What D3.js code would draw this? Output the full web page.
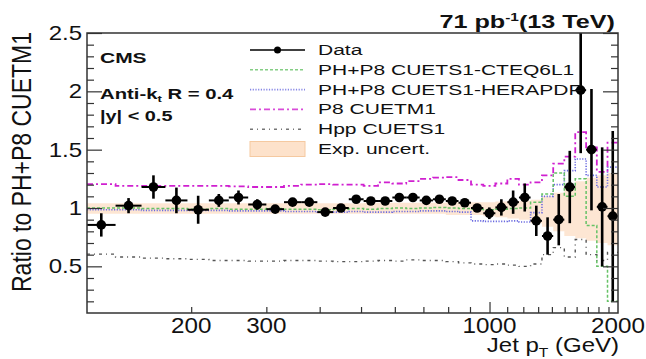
<!DOCTYPE html>
<html lang="en">
<head>
    <meta charset="UTF-8">
    <title>Ratio to PH+P8 CUETM1</title>
    <script src="https://d3js.org/d3.v7.min.js" charset="utf-8"></script>
    <style>
        body { margin: 0; background: #fff; }
        text { font-family: "Liberation Sans", Arial, Helvetica, sans-serif; fill: #111; }
        .axis path { display: none; }
        .axis line { stroke: #333; stroke-width: 1.2; }
    </style>
</head>
<body>
<script>
    // bin edges in jet pT (GeV)
    const ptEdges = [114, 133, 153, 174, 196, 220, 245, 272, 300, 330, 362, 395, 430, 468, 507, 548, 592, 638,
        686, 737, 790, 846, 905, 967, 1032, 1101, 1172, 1248, 1327, 1410, 1497, 1588, 1684, 1784, 1890, 2000];

    // data / PH+P8 CUETM1
    const dataRatio = [0.855, 1.02, 1.18, 1.065, 0.985, 1.065, 1.09, 1.03, 0.99, 1.05, 1.05, 0.965, 1.0, 1.075,
        1.06, 1.06, 1.09, 1.09, 1.065, 1.075, 1.06, 1.045, 1.0, 0.955, 1.005, 1.05, 1.09, 0.89, 0.76, 0.9,
        1.18, 2.01, 1.5, 1.01, 0.93];
    const dataErr = [0.1, 0.065, 0.1, 0.11, 0.12, 0.055, 0.06, 0.045, 0.02, 0.02, 0.02, 0.02, 0.02, 0.02,
        0.02, 0.02, 0.02, 0.02, 0.02, 0.02, 0.02, 0.025, 0.03, 0.05, 0.07, 0.1, 0.12, 0.13, 0.16, 0.22,
        0.31, 0.54, 0.52, 0.51, 0.73];

    // predictions / PH+P8 CUETM1
    const cteqRatio = [1.0, 1.0, 0.995, 0.995, 0.99, 0.995, 0.99, 0.99, 0.995, 0.99, 0.99, 0.985, 0.99, 0.995,
        0.99, 0.995, 1.0, 0.995, 1.0, 1.005, 1.0, 0.995, 0.99, 0.985, 0.99, 0.995, 1.0, 1.05, 1.12, 1.3,
        1.1, 1.25, 0.85, 0.5, 0.2];
    const heraRatio = [0.985, 0.985, 0.98, 0.98, 0.98, 0.98, 0.975, 0.975, 0.975, 0.97, 0.97, 0.965, 0.965, 0.97,
        0.965, 0.965, 0.97, 0.97, 0.975, 0.975, 0.97, 0.965, 0.89, 0.885, 0.885, 0.89, 0.88, 0.96, 1.1, 1.2,
        1.32, 1.42, 1.28, 1.18, 1.35];
    const cuetm1Ratio = [1.205, 1.19, 1.19, 1.19, 1.19, 1.19, 1.185, 1.18, 1.18, 1.19, 1.2, 1.205, 1.2, 1.2,
        1.19, 1.22, 1.21, 1.23, 1.25, 1.26, 1.265, 1.24, 1.2, 1.19, 1.21, 1.25, 1.2, 1.22, 1.28, 1.38,
        1.44, 1.65, 1.52, 1.31, 1.56];
    const hppRatio = [0.605, 0.58, 0.57, 0.565, 0.56, 0.55, 0.55, 0.545, 0.545, 0.55, 0.55, 0.545, 0.54, 0.54,
        0.545, 0.55, 0.545, 0.555, 0.55, 0.55, 0.54, 0.53, 0.52, 0.515, 0.52, 0.51, 0.5, 0.52, 0.6, 0.66,
        0.58, 0.73, 0.6, 0.55, 0.62];

    // experimental uncertainty band
    const uncLow = [0.95, 0.95, 0.95, 0.95, 0.95, 0.95, 0.95, 0.95, 0.95, 0.95, 0.95, 0.95, 0.95, 0.95,
        0.95, 0.95, 0.95, 0.95, 0.95, 0.95, 0.94, 0.94, 0.94, 0.93, 0.92, 0.91, 0.9, 0.87, 0.84, 0.8,
        0.76, 0.74, 0.72, 0.7, 0.68];
    const uncHigh = [1.04, 1.04, 1.04, 1.04, 1.04, 1.04, 1.04, 1.04, 1.04, 1.04, 1.04, 1.04, 1.04, 1.04,
        1.045, 1.045, 1.045, 1.045, 1.045, 1.045, 1.05, 1.05, 1.05, 1.05, 1.055, 1.06, 1.06, 1.07, 1.1, 1.13,
        1.18, 1.23, 1.26, 1.28, 1.3];

    const yTickValues = [0.5, 1, 1.5, 2, 2.5];
    const yTickLabels = ['0.5', '1', '1.5', '2', '2.5'];
    const xTickValues = [200, 300, 1000, 2000];
    const xTickLabels = ['200', '300', '1000', '2000'];
    const legendLabels = ['Data', 'PH+P8 CUETS1-CTEQ6L1', 'PH+P8 CUETS1-HERAPDF', 'P8 CUETM1', 'Hpp CUETS1', 'Exp. uncert.'];

    const W = 646, H = 359;
    const L = 87, R = 618, T = 33, B = 313;

    const svg = d3.select('body').append('svg').attr('width', W).attr('height', H);
    svg.append('rect').attr('width', W).attr('height', H).attr('fill', '#fff');

    const x = d3.scaleLog().domain([114, 2000]).range([L, R]);
    const y = d3.scaleLinear().domain([0.1, 2.5]).range([B, T]);

    svg.append('clipPath').attr('id', 'plot').append('rect')
        .attr('x', L).attr('y', T).attr('width', R - L).attr('height', B - T);

    const plot = svg.append('g').attr('clip-path', 'url(#plot)');

    // stretched text helper (the reference is wide-set)
    function label(px, py, sx, anchor, size, weight) {
        return svg.append('g').attr('transform', 'translate(' + px + ',' + py + ') scale(' + sx + ',1)')
            .append('text')
            .attr('text-anchor', anchor)
            .attr('font-size', size)
            .attr('font-weight', weight || 'normal');
    }

    // step points for a per-bin series
    function steps(vals) {
        let pts = [];
        vals.forEach(function (v, i) {
            pts.push([ptEdges[i], v]);
            pts.push([ptEdges[i + 1], v]);
        });
        return pts;
    }

    // uncertainty band
    let bandPts = [];
    uncLow.forEach(function (v, i) {
        bandPts.push({x: ptEdges[i], lo: v, hi: uncHigh[i]});
        bandPts.push({x: ptEdges[i + 1], lo: v, hi: uncHigh[i]});
    });
    plot.append('path')
        .attr('d', d3.area().x(function (d) { return x(d.x); })
            .y0(function (d) { return y(d.lo); })
            .y1(function (d) { return y(d.hi); })(bandPts))
        .attr('fill', '#fde2cb').attr('opacity', 0.85);

    const line = d3.line().x(function (d) { return x(d[0]); }).y(function (d) { return y(d[1]); });

    const series = [
        {vals: hppRatio, color: '#555', dash: '3,4,1,4', width: 1.4},
        {vals: heraRatio, color: '#6a6ae0', dash: '1.2,1.5', width: 1.6},
        {vals: cteqRatio, color: '#66c266', dash: '3,2', width: 1.5},
        {vals: cuetm1Ratio, color: '#d020d0', dash: '6,3,2,3', width: 1.8}
    ];
    series.forEach(function (s) {
        plot.append('path')
            .attr('d', line(steps(s.vals)))
            .attr('fill', 'none')
            .attr('stroke', s.color)
            .attr('stroke-width', s.width)
            .attr('stroke-dasharray', s.dash);
    });

    // data points
    const pts = plot.selectAll('g.pt').data(dataRatio).enter().append('g').attr('class', 'pt');
    pts.append('line')
        .attr('x1', function (d, i) { return x(ptEdges[i]); })
        .attr('x2', function (d, i) { return x(ptEdges[i + 1]); })
        .attr('y1', function (d) { return y(d); })
        .attr('y2', function (d) { return y(d); })
        .attr('stroke', '#000').attr('stroke-width', 2);
    pts.append('line')
        .attr('x1', function (d, i) { return x(Math.sqrt(ptEdges[i] * ptEdges[i + 1])); })
        .attr('x2', function (d, i) { return x(Math.sqrt(ptEdges[i] * ptEdges[i + 1])); })
        .attr('y1', function (d, i) { return y(d - dataErr[i]); })
        .attr('y2', function (d, i) { return y(d + dataErr[i]); })
        .attr('stroke', '#000').attr('stroke-width', 2.6);
    pts.append('circle')
        .attr('cx', function (d, i) { return x(Math.sqrt(ptEdges[i] * ptEdges[i + 1])); })
        .attr('cy', function (d) { return y(d); })
        .attr('r', 4.8)
        .attr('fill', '#000');

    // axes (ticks inward)
    const yMinor = d3.range(2, 25).map(function (k) { return k / 10; }).filter(function (v) { return Math.abs(v * 2 - Math.round(v * 2)) > 1e-6; });
    svg.append('g').attr('class', 'axis').attr('transform', 'translate(' + L + ',0)')
        .call(d3.axisLeft(y).tickValues(yTickValues).tickSize(-15).tickFormat(''));
    svg.append('g').attr('class', 'axis').attr('transform', 'translate(' + L + ',0)')
        .call(d3.axisLeft(y).tickValues(yMinor).tickSize(-7).tickFormat(''));
    svg.append('g').attr('class', 'axis').attr('transform', 'translate(' + R + ',0)')
        .call(d3.axisRight(y).tickValues(yTickValues).tickSize(-15).tickFormat(''));
    svg.append('g').attr('class', 'axis').attr('transform', 'translate(' + R + ',0)')
        .call(d3.axisRight(y).tickValues(yMinor).tickSize(-7).tickFormat(''));

    const xMinor = [200, 300, 400, 500, 600, 700, 800, 900, 1100, 1200, 1300, 1400, 1500, 1600, 1700, 1800, 1900];
    svg.append('g').attr('class', 'axis').attr('transform', 'translate(0,' + B + ')')
        .call(d3.axisBottom(x).tickValues(xMinor).tickSize(-6).tickFormat(''));
    svg.append('g').attr('class', 'axis').attr('transform', 'translate(0,' + B + ')')
        .call(d3.axisBottom(x).tickValues([1000]).tickSize(-11).tickFormat(''));

    // frame
    svg.append('rect').attr('x', L).attr('y', T).attr('width', R - L).attr('height', B - T)
        .attr('fill', 'none').attr('stroke', '#333').attr('stroke-width', 1.5);

    // tick labels
    yTickValues.forEach(function (v, i) {
        label(82, y(v) + 7, 1.2, 'end', 20).text(yTickLabels[i]);
    });
    xTickValues.forEach(function (v, i) {
        label(x(v), 333, 1.1, 'middle', 22).text(xTickLabels[i]);
    });

    // axis titles
    svg.append('g').attr('transform', 'translate(31,32) scale(1.22,1) rotate(-90)')
        .append('text').attr('text-anchor', 'end').attr('font-size', 23)
        .text('Ratio to PH+P8 CUETM1');

    const xt = label(619, 352, 1.2, 'end', 20);
    xt.append('tspan').text('Jet p');
    xt.append('tspan').attr('font-size', 13).attr('dy', 5).text('T');
    xt.append('tspan').attr('dy', -5).text(' (GeV)');

    // header
    const tt = label(615, 28, 1.4, 'end', 18, 'bold');
    tt.append('tspan').text('71 pb');
    tt.append('tspan').attr('font-size', 11).attr('dy', -7).text('-1');
    tt.append('tspan').attr('dy', 7).text('(13 TeV)');

    label(100, 63, 1.5, 'start', 14, 'bold').text('CMS');
    const ak = label(100, 99, 1.45, 'start', 14, 'bold');
    ak.append('tspan').text('Anti-k');
    ak.append('tspan').attr('font-size', 9).attr('dy', 3).text('t');
    ak.append('tspan').attr('dy', -3).text(' R = 0.4');
    label(100, 121, 1.42, 'start', 14, 'bold').text('|y| < 0.5');

    // legend
    const rowY = function (i) { return 50 + i * 19.8; };
    svg.append('line').attr('x1', 250).attr('x2', 305).attr('y1', rowY(0)).attr('y2', rowY(0))
        .attr('stroke', '#000').attr('stroke-width', 1.5);
    svg.append('circle').attr('cx', 277.5).attr('cy', rowY(0)).attr('r', 3.5).attr('fill', '#000');
    [series[2], series[1], series[3], series[0]].forEach(function (s, k) {
        svg.append('line').attr('x1', 250).attr('x2', 305).attr('y1', rowY(k + 1)).attr('y2', rowY(k + 1))
            .attr('stroke', s.color).attr('stroke-width', s.width).attr('stroke-dasharray', s.dash)
            .attr('opacity', 0.8);
    });
    svg.append('rect').attr('x', 250).attr('y', rowY(5) - 7.5).attr('width', 55).attr('height', 15)
        .attr('fill', '#fde2cb').attr('stroke', '#f5c9a0').attr('stroke-width', 1);
    legendLabels.forEach(function (t, i) {
        label(318, rowY(i) + 5, 1.45, 'start', 14.5).text(t);
    });
</script>
</body>
</html>
